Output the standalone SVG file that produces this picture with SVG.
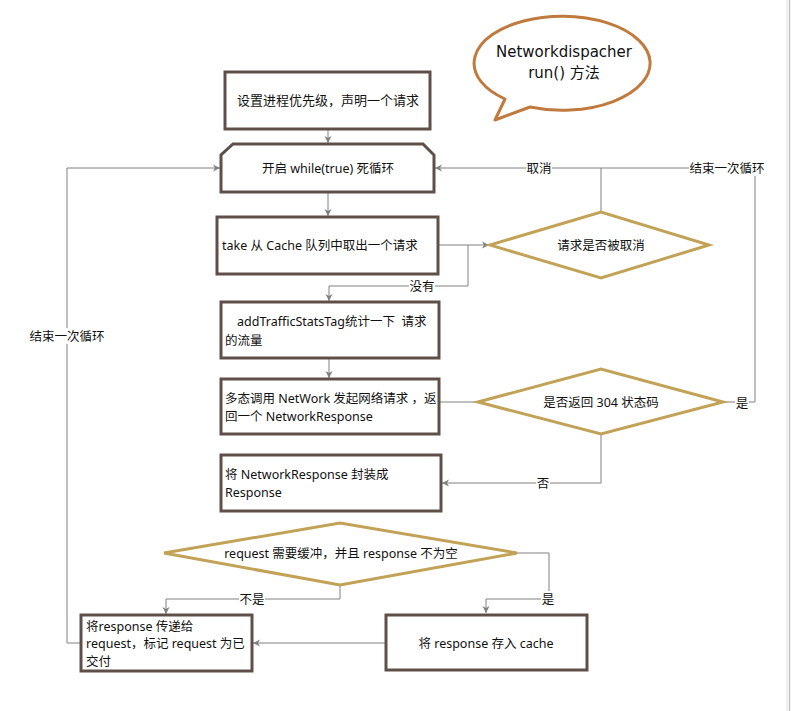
<svg xmlns="http://www.w3.org/2000/svg" width="791" height="711" viewBox="0 0 791 711">
<style>
text{font-family:"Noto Sans","Noto Sans CJK SC",sans-serif;font-size:12.5px;fill:#111}
.box{fill:#fff;stroke:#5e5049;stroke-width:3}
.dia{fill:#fff;stroke:#c2a257;stroke-width:3}
.con{fill:none;stroke:#808080;stroke-width:1}
.lb{fill:#fff}
.c{text-anchor:middle}
.bub{font-family:"Comic Sans MS","DejaVu Sans","Noto Sans CJK SC",sans-serif;font-size:15px}
</style>
<defs>
<marker id="ar" markerUnits="userSpaceOnUse" markerWidth="8" markerHeight="8" refX="7" refY="4" orient="auto">
<path d="M0,0.5 L7,4 L0,7.5 L2,4 z" fill="#808080"/>
</marker>
</defs>
<rect x="0" y="0" width="791" height="711" fill="#fff"/>
<rect x="786" y="0" width="5" height="711" fill="#f0f0f0"/>
<line x1="789.5" y1="0" x2="789.5" y2="711" stroke="#c4c4c4" stroke-width="1"/>

<g id="connectors">
<path class="con" d="M328,129 V143" marker-end="url(#ar)"/>
<path class="con" d="M328,192 V216" marker-end="url(#ar)"/>
<path class="con" d="M438,245 H489" marker-end="url(#ar)"/>
<path class="con" d="M468,245 V286 H329 V301" marker-end="url(#ar)"/>
<path class="con" d="M601,212 V168"/>
<path class="con" d="M723,402 H755 V168 H435" marker-end="url(#ar)"/>
<path class="con" d="M329,358 V378" marker-end="url(#ar)"/>
<path class="con" d="M438,402 H478"/>
<path class="con" d="M601,434 V483 H442" marker-end="url(#ar)"/>
<path class="con" d="M340,585 V599 H166 V614" marker-end="url(#ar)"/>
<path class="con" d="M517,553 H549 V599 H486 V613" marker-end="url(#ar)"/>
<path class="con" d="M386,643 H253" marker-end="url(#ar)"/>
<path class="con" d="M81,643 H67 V168 H220" marker-end="url(#ar)"/>
<rect class="lb" x="526" y="160" width="26" height="16"/>
<text x="539" y="172.5" class="c">取消</text>
<rect class="lb" x="689" y="160" width="76" height="16"/>
<text x="727" y="172.5" class="c">结束一次循环</text>
<rect class="lb" x="409" y="278" width="26" height="16"/>
<text x="422" y="290.5" class="c">没有</text>
<rect class="lb" x="735" y="395" width="14" height="16"/>
<text x="742" y="407.5" class="c">是</text>
<rect class="lb" x="536" y="475" width="14" height="16"/>
<text x="543" y="487.5" class="c">否</text>
<rect class="lb" x="239" y="591" width="26" height="16"/>
<text x="252" y="603.5" class="c">不是</text>
<rect class="lb" x="541" y="591" width="14" height="16"/>
<text x="548" y="603.5" class="c">是</text>
<rect class="lb" x="29" y="328" width="76" height="16"/>
<text x="67" y="340.5" class="c">结束一次循环</text>
</g>

<g id="bubble">
<path d="M530,107 A88,47 0 1 0 505,99 L495,120 Z" fill="#fff" stroke="#c07a3e" stroke-width="3" stroke-linejoin="round"/>
<text x="564" y="57" class="c bub">Networkdispacher</text>
<text x="564" y="78" class="c bub">run() 方法</text>
</g>

<g id="n1">
<rect class="box" x="225" y="72" width="205" height="57"/>
<text x="328" y="104.5" class="c" style="font-size:13px">设置进程优先级，声明一个请求</text>
</g>

<g id="n2">
<path class="box" d="M233,144 H423 L434,155 V192 H221 V155 Z"/>
<text x="328" y="172.5" class="c">开启 while(true) 死循环</text>
</g>

<g id="n3">
<rect class="box" x="217" y="217" width="221" height="57"/>
<text x="222" y="249.5">take 从 Cache 队列中取出一个请求</text>
</g>

<g id="d1">
<path class="dia" d="M490,245 L601,212 L709,245 L601,278 Z"/>
<text x="601" y="249.5" class="c">请求是否被取消</text>
</g>

<g id="n4">
<rect class="box" x="221" y="302" width="218" height="56"/>
<text x="237" y="326" xml:space="preserve">addTrafficStatsTag统计一下  请求</text>
<text x="225" y="344.5">的流量</text>
</g>

<g id="n5">
<rect class="box" x="221" y="379" width="218" height="55"/>
<text x="225" y="402.5">多态调用 NetWork 发起网络请求 ，返</text>
<text x="225" y="420.5">回一个 NetworkResponse</text>
</g>

<g id="d2">
<path class="dia" d="M478,402 L601,369 L723,402 L601,434 Z"/>
<text x="601" y="406.5" class="c">是否返回 304 状态码</text>
</g>

<g id="n6">
<rect class="box" x="221" y="455" width="220" height="56"/>
<text x="225" y="478.5">将 NetworkResponse 封装成</text>
<text x="225" y="496.5">Response</text>
</g>

<g id="d3">
<path class="dia" d="M164,553 L340,523 L517,553 L340,585 Z"/>
<text x="341" y="557.5" class="c">request 需要缓冲，并且 response 不为空</text>
</g>

<g id="n7">
<rect class="box" x="81" y="615" width="171" height="56"/>
<text x="86" y="630.5">将response 传递给</text>
<text x="86" y="647.5">request，标记 request 为已</text>
<text x="86" y="666">交付</text>
</g>

<g id="n8">
<rect class="box" x="386" y="615" width="201" height="55"/>
<text x="486" y="647.5" class="c">将 response 存入 cache</text>
</g>
</svg>
